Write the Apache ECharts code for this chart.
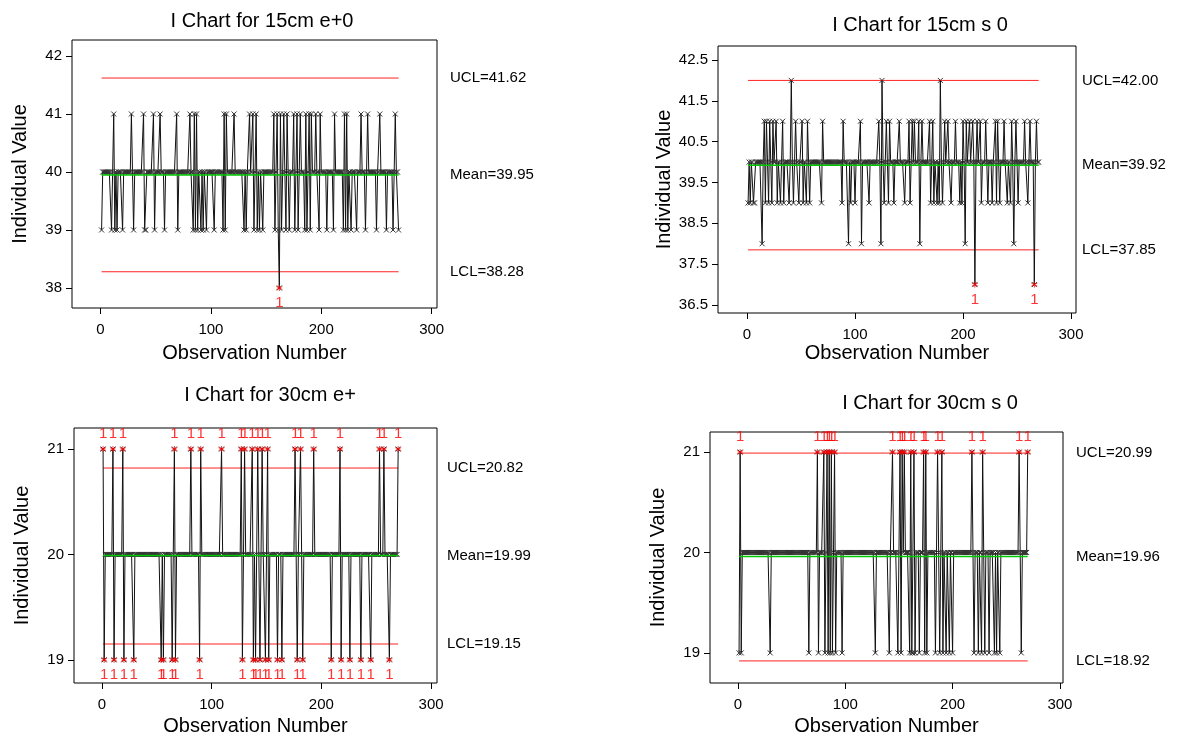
<!DOCTYPE html>
<html>
<head>
<meta charset="utf-8">
<script src="https://cdn.jsdelivr.net/npm/echarts@6/dist/echarts.min.js"></script>
<style>
  html, body { margin: 0; padding: 0; background: #fff; }
  #chart { width: 1177px; height: 739px; }
</style>
</head>
<body>
<div id="chart"></div>
<script>
const N_OBS = 270;
const xTicks = [0, 100, 200, 300];

// 15cm e+0 : most readings are 40, these observation numbers read 41 / 39
const e15Base = 40;
const e15Hi = [12, 28, 39, 48, 54, 69, 81, 85, 87, 112, 114, 121, 135, 138, 141, 157, 160, 163, 166, 169, 175, 178, 181, 186, 189, 191, 195, 199, 212, 221, 223, 236, 242, 253, 267];
const e15Lo = [1, 10, 13, 15, 20, 30, 40, 41, 49, 58, 70, 84, 86, 88, 91, 93, 96, 103, 111, 113, 130, 132, 139, 142, 144, 147, 158, 161, 164, 168, 171, 176, 179, 185, 187, 190, 198, 205, 211, 220, 222, 224, 227, 232, 240, 250, 259, 265, 270];
const e15Other = [[162, 38]];
const e15Limits = [41.62, 39.95, 38.28];
const e15YTicks = [38, 39, 40, 41, 42];

// 15cm s 0
const s15Base = 40;
const s15Hi = [16, 18, 21, 24, 27, 33, 45, 51, 56, 70, 89, 105, 122, 129, 132, 141, 150, 153, 155, 159, 162, 169, 172, 183, 186, 193, 200, 203, 206, 209, 213, 216, 221, 230, 232, 238, 245, 249, 257, 262, 268];
const s15Lo = [1, 3, 6, 7, 17, 20, 23, 28, 31, 34, 39, 43, 48, 52, 55, 58, 69, 88, 96, 100, 113, 127, 131, 136, 146, 151, 170, 173, 176, 178, 181, 189, 197, 199, 217, 223, 227, 231, 234, 241, 244, 251, 260];
const s15Other = [[41, 42], [125, 42], [179, 42], [14, 38], [94, 38], [106, 38], [124, 38], [160, 38], [202, 38], [247, 38], [211, 37], [266, 37]];
const s15Limits = [42.00, 39.92, 37.85];
const s15YTicks = [36.5, 37.5, 38.5, 39.5, 40.5, 41.5, 42.5];

// 30cm e+
const e30Base = 20;
const e30Hi = [1, 10, 19, 66, 81, 90, 109, 127, 130, 137, 142, 146, 151, 176, 181, 193, 217, 253, 257, 270];
const e30Lo = [2, 11, 20, 29, 54, 56, 64, 67, 89, 128, 138, 140, 144, 149, 152, 160, 164, 178, 183, 209, 218, 226, 236, 245, 262];
const e30Other = [];
const e30Limits = [20.82, 19.99, 19.15];
const e30YTicks = [19, 20, 21];

// 30cm s 0
const s30Base = 20;
const s30Hi = [2, 74, 80, 83, 85, 87, 90, 144, 151, 153, 155, 161, 164, 173, 175, 186, 190, 218, 228, 262, 270];
const s30Lo = [1, 3, 30, 66, 75, 81, 84, 86, 88, 91, 97, 128, 141, 149, 152, 160, 162, 163, 165, 169, 174, 176, 184, 188, 191, 194, 197, 200, 220, 224, 227, 230, 234, 239, 241, 244, 264];
const s30Other = [];
const s30Limits = [20.99, 19.96, 18.92];
const s30YTicks = [19, 20, 21];

function buildObs(base, hi, lo, other) {
  const vals = [];
  for (let i = 0; i < N_OBS; i++) vals.push(base);
  hi.forEach((n) => { vals[n - 1] = base + 1; });
  lo.forEach((n) => { vals[n - 1] = base - 1; });
  other.forEach(([n, v]) => { vals[n - 1] = v; });
  return vals.map((v, i) => [i + 1, v]);
}

const panels = [
  {
    title: 'I Chart for 15cm e+0', obs: buildObs(e15Base, e15Hi, e15Lo, e15Other),
    limits: e15Limits, yTicks: e15YTicks, dec: 0,
    grid: { left: 72, top: 40, width: 365, height: 268 },
    xRange: [-25.8, 304.8], yRange: [37.655, 42.276], titlePos: [257, 6],
    labelMargin: 13, xNameGap: 35,
  },
  {
    title: 'I Chart for 15cm s 0', obs: buildObs(s15Base, s15Hi, s15Lo, s15Other),
    limits: s15Limits, yTicks: s15YTicks, dec: 1,
    grid: { left: 718, top: 46, width: 358, height: 267 },
    xRange: [-26.85, 304.6], yRange: [36.304, 42.843], titlePos: [915, 10],
    labelMargin: 6, xNameGap: 30,
  },
  {
    title: 'I Chart for 30cm e+', obs: buildObs(e30Base, e30Hi, e30Lo, e30Other),
    limits: e30Limits, yTicks: e30YTicks, dec: 0,
    grid: { left: 74, top: 428, width: 363, height: 255 },
    xRange: [-25.5, 305.4], yRange: [18.78, 21.2], titlePos: [265, 380],
    labelMargin: 10, xNameGap: 33,
  },
  {
    title: 'I Chart for 30cm s 0', obs: buildObs(s30Base, s30Hi, s30Lo, s30Other),
    limits: s30Limits, yTicks: s30YTicks, dec: 0,
    grid: { left: 710, top: 432, width: 353, height: 251 },
    xRange: [-26.1, 302.9], yRange: [18.70, 21.2], titlePos: [925, 388],
    labelMargin: 13, xNameGap: 33,
  },
];

const FONT = 'Liberation Sans, Arial, sans-serif';
const CROSS = 'path://M0,0L10,10M10,0L0,10';
const STAR = 'path://M5,0L5,10M0.7,2.5L9.3,7.5M0.7,7.5L9.3,2.5';
const RED = '#ff2020';
const GREEN = '#00c800';

const option = {
  animation: false,
  backgroundColor: '#fff',
  textStyle: { fontFamily: FONT },
  title: [],
  grid: [],
  xAxis: [],
  yAxis: [],
  series: [],
};

function limitLine(k, yIdx, value, color, width, z) {
  return {
    type: 'line', xAxisIndex: k, yAxisIndex: yIdx, silent: true,
    data: [[1, value], [N_OBS, value]], symbol: 'none',
    lineStyle: { color: color, width: width }, z: z,
  };
}

panels.forEach((p, k) => {
  const [ucl, mean, lcl] = p.limits;
  option.title.push({
    text: p.title, left: p.titlePos[0], top: p.titlePos[1], textAlign: 'center',
    textStyle: { fontFamily: FONT, fontSize: 20, fontWeight: 'normal', color: '#000' },
  });
  option.grid.push(Object.assign({ show: true, borderColor: '#000', borderWidth: 1, backgroundColor: '#fff' }, p.grid));
  option.xAxis.push({
    type: 'value', gridIndex: k, min: p.xRange[0], max: p.xRange[1],
    name: 'Observation Number', nameLocation: 'middle', nameGap: p.xNameGap,
    nameTextStyle: { fontFamily: FONT, fontSize: 20, color: '#000' },
    axisLine: { show: false, onZero: false },
    axisTick: { show: true, length: 6, customValues: xTicks, lineStyle: { color: '#000' } },
    axisLabel: { customValues: xTicks, fontSize: 15, color: '#000', margin: 14 },
    splitLine: { show: false },
  });
  option.yAxis.push({
    type: 'value', gridIndex: k, min: p.yRange[0], max: p.yRange[1],
    name: 'Individual Value', nameLocation: 'middle', nameGap: 42,
    nameTextStyle: { fontFamily: FONT, fontSize: 20, color: '#000' },
    axisLine: { show: false, onZero: false },
    axisTick: { show: true, length: 6, customValues: p.yTicks, lineStyle: { color: '#000' } },
    axisLabel: { customValues: p.yTicks, fontSize: 15, color: '#000', margin: 10,
      formatter: (v) => v.toFixed(p.dec) },
    splitLine: { show: false },
  });
  // right-hand limit labels
  option.yAxis.push({
    type: 'value', gridIndex: k, position: 'right', min: p.yRange[0], max: p.yRange[1],
    axisLine: { show: false, onZero: false }, axisTick: { show: false }, splitLine: { show: false },
    axisLabel: {
      customValues: [lcl, mean, ucl], fontSize: 15, color: '#000', margin: p.labelMargin,
      formatter: (v) => {
        if (Math.abs(v - ucl) < 1e-6) return 'UCL=' + ucl.toFixed(2);
        if (Math.abs(v - lcl) < 1e-6) return 'LCL=' + lcl.toFixed(2);
        return 'Mean=' + mean.toFixed(2);
      },
    },
  });

  const yIdx = k * 2;
  option.series.push(limitLine(k, yIdx, ucl, RED, 1, 2));
  option.series.push(limitLine(k, yIdx, lcl, RED, 1, 2));
  option.series.push({
    type: 'line', xAxisIndex: k, yAxisIndex: yIdx, data: p.obs,
    symbol: CROSS, symbolSize: 5, showAllSymbol: true,
    lineStyle: { color: '#111', width: 1 },
    itemStyle: { color: 'none', borderColor: '#333', borderWidth: 1 },
    z: 3,
  });
  option.series.push(limitLine(k, yIdx, mean, GREEN, 1.5, 4));
  // out-of-control points, flagged with "1"
  const flagged = p.obs
    .filter(([, v]) => v > ucl || v < lcl)
    .map(([n, v]) => ({ value: [n, v], label: { position: v > ucl ? 'top' : 'bottom' } }));
  option.series.push({
    type: 'scatter', xAxisIndex: k, yAxisIndex: yIdx, data: flagged,
    symbol: STAR, symbolSize: 6,
    itemStyle: { color: 'none', borderColor: '#ff0000', borderWidth: 1 },
    label: { show: true, formatter: '1', color: '#ff0000', fontSize: 15, distance: 2 },
    z: 5,
  });
});

const chart = echarts.init(document.getElementById('chart'));
chart.setOption(option);
</script>
</body>
</html>
